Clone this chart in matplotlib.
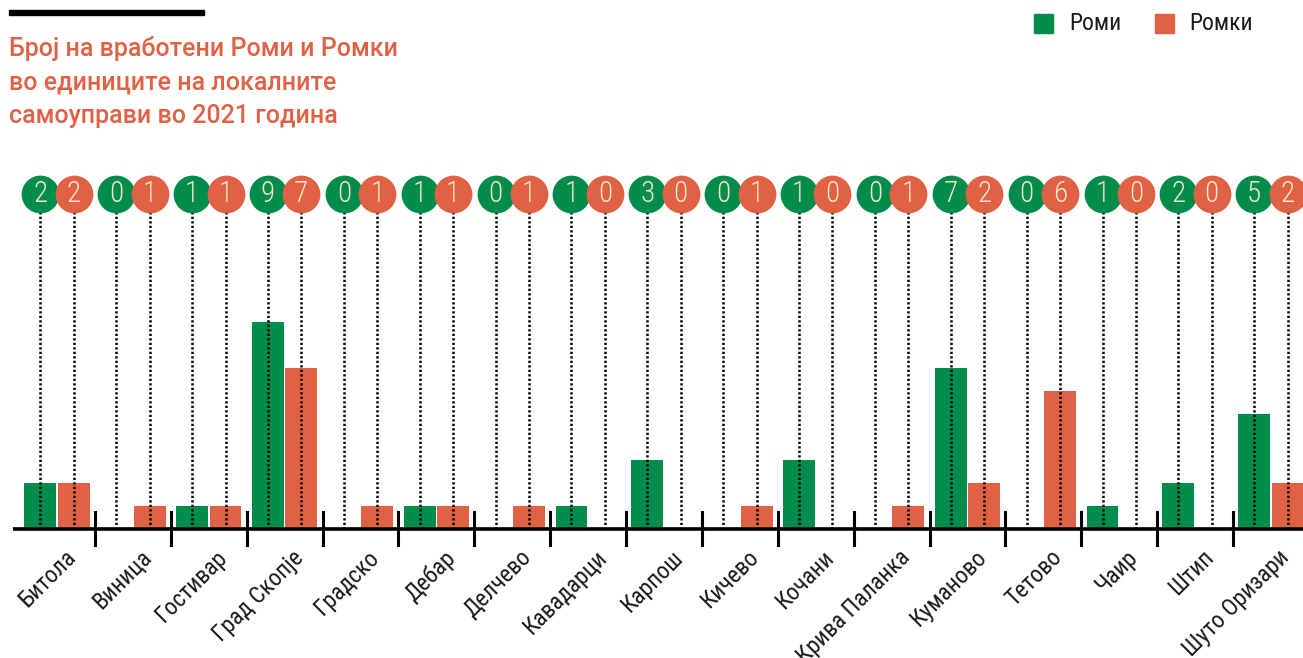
import matplotlib
matplotlib.use("Agg")
import matplotlib.pyplot as plt
from matplotlib import font_manager
from matplotlib.patches import Rectangle

# Податоци
opstini = ["Битола", "Виница", "Гостивар", "Град Скопје", "Градско", "Дебар",
           "Делчево", "Кавадарци", "Карпош", "Кичево", "Кочани", "Крива Паланка",
           "Куманово", "Тетово", "Чаир", "Штип", "Шуто Оризари"]
romi = [2, 0, 1, 9, 0, 1, 0, 1, 3, 0, 3, 0, 7, 0, 1, 2, 5]
romki = [2, 1, 1, 7, 1, 1, 1, 0, 0, 1, 0, 1, 2, 6, 0, 0, 2]
# бројките во круговите (Кочани е означено со 1 во оригиналот)
romi_labels = [2, 0, 1, 9, 0, 1, 0, 1, 3, 0, 1, 0, 7, 0, 1, 2, 5]
romki_labels = [2, 1, 1, 7, 1, 1, 1, 0, 0, 1, 0, 1, 2, 6, 0, 0, 2]

GREEN = "#008C4A"
ORANGE = "#E06144"
CREAM = "#F4E8CC"

available = {f.name for f in font_manager.fontManager.ttflist}
font = next(f for f in ["Roboto Condensed", "Liberation Sans Narrow", "Roboto", "DejaVu Sans"]
            if f in available)
title_font = "Roboto" if "Roboto" in available else font
plt.rcParams["font.family"] = [font, "DejaVu Sans"]

W, H = 1303, 658
fig = plt.figure(figsize=(W / 100, H / 100), dpi=100)
ax = fig.add_axes([0, 0, 1, 1])
ax.axis("off")

# пиксели -> податоци
GX0, GW = 57.07, 75.87
BASE, UNIT = 529, 23.0
ax.set_xlim(-GX0 / GW, (W - GX0) / GW)
ax.set_ylim(-(H - BASE) / UNIT, BASE / UNIT)


def py(p):
    return (BASE - p) / UNIT


def px(p):
    return p / GW


off = 0.22
bw = 0.42
xs = list(range(len(opstini)))
ax.bar([x - off for x in xs], romi, width=bw, color=GREEN, zorder=1)
ax.bar([x + off for x in xs], romki, width=bw, color=ORANGE, zorder=1)

circle_y = py(194)
for x, a, b in zip(xs, romi_labels, romki_labels):
    for dx, c, lab, z in [(-off, GREEN, a, 3), (off, ORANGE, b, 4)]:
        ax.plot([x + dx, x + dx], [0, circle_y], color="black", lw=1.8,
                dashes=(0.9, 0.9), zorder=2)
        ax.scatter([x + dx], [circle_y], s=740, color=c, zorder=z, linewidths=0)
        ax.text(x + dx, circle_y, str(lab), color=CREAM, fontsize=21,
                fontweight="light", ha="center", va="center", zorder=z + 0.5)

# основна линија и разделници
ax.plot([-GX0 / GW + px(13), (W - GX0) / GW], [py(527.5), py(527.5)],
        color="#cccccc", lw=1.2, zorder=5)
ax.plot([-GX0 / GW + px(13), (W - GX0) / GW], [0, 0], color="black", lw=2.6,
        zorder=6, solid_capstyle="butt")
for x in xs[:-1]:
    ax.plot([x + 0.5, x + 0.5], [py(512), py(545)], color="black", lw=2.2,
            zorder=6)

for x, name in zip(xs, opstini):
    ax.text(x + px(7), py(546), name, rotation=45, rotation_mode="anchor",
            ha="right", va="top", fontsize=17, color="#1a1a1a")

# наслов
fig.add_artist(Rectangle((9 / W, 1 - 15 / H), 195 / W, 5 / H, color="black",
                         transform=fig.transFigure))
title = ["Број на вработени Роми и Ромки", "во единиците на локалните",
         "самоуправи во 2021 година"]
for k, line in enumerate(title):
    fig.text(9 / W, 1 - (56 + 33.5 * k) / H, line, color=ORANGE, fontsize=18,
             family=[title_font, "DejaVu Sans"], fontweight="medium",
             ha="left", va="baseline")

# легенда
for sx, tx, c, lab in [(1034, 1069, GREEN, "Роми"), (1155, 1189, ORANGE, "Ромки")]:
    fig.add_artist(Rectangle((sx / W, 1 - 33 / H), 19 / W, 19 / H, color=c,
                             transform=fig.transFigure))
    fig.text(tx / W, 1 - 24 / H, lab, fontsize=17, color="#1a1a1a",
             ha="left", va="center")

fig.savefig("out.png", dpi=100)
